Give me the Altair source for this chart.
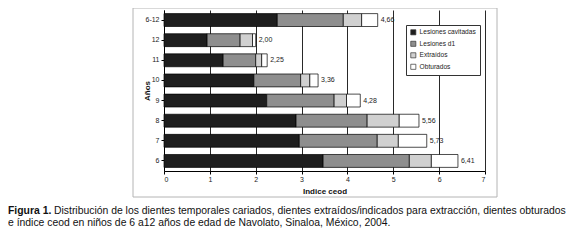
import altair as alt
import pandas as pd

# ---- data ----
years = ["6-12", "12", "11", "10", "9", "8", "7", "6"]
series = ["Lesiones cavitadas", "Lesiones d1", "Extraídos", "Obturados"]
cavitadas = [2.47, 0.94, 1.29, 1.96, 2.24, 2.88, 2.95, 3.47]
lesiones_d1 = [1.44, 0.72, 0.71, 1.02, 1.47, 1.55, 1.70, 1.88]
extraidos = [0.40, 0.27, 0.13, 0.20, 0.27, 0.70, 0.46, 0.48]
obturados = [0.35, 0.07, 0.12, 0.18, 0.30, 0.43, 0.62, 0.58]
totals = [4.66, 2.00, 2.25, 3.36, 4.28, 5.56, 5.73, 6.41]
total_labels = ["4,66", "2,00", "2,25", "3,36", "4,28", "5,56", "5,73", "6,41"]
x_ticks = [0, 1, 2, 3, 4, 5, 6, 7]
colors = ["#1e1e1e", "#8e8e8e", "#d0d0d0", "#ffffff"]

caption_bold = "Figura 1."
caption_line1 = ("Distribución de los dientes temporales cariados, dientes extraídos/indicados "
                 "para extracción, dientes obturados")
caption_line2 = "e índice ceod en niños de 6 a12 años de edad de Navolato, Sinaloa, México, 2004."

FONT = "Liberation Sans"

rows = []
for s_i, (name, vals) in enumerate(zip(series, [cavitadas, lesiones_d1, extraidos, obturados])):
    for y, v in zip(years, vals):
        rows.append({"year": y, "series": name, "value": v, "idx": s_i})
df = pd.DataFrame(rows)
tot_df = pd.DataFrame({"year": years, "total": totals, "label": total_labels})

W, H = 321, 161

y_enc = alt.Y(
    "year:N", sort=years, title="Años",
    scale=alt.Scale(domain=years, paddingInner=0.36, paddingOuter=0.18),
    axis=alt.Axis(labelFont=FONT, labelFontSize=7, labelColor="#222", tickSize=3,
                  tickColor="black", domainColor="black", labelPadding=2,
                  titleFont=FONT, titleFontSize=8, titleFontWeight="bold", titleColor="#111",
                  titleX=-17, titleY=H / 2, titleAngle=270, titleBaseline="middle"),
)
x_enc = alt.X(
    "value:Q", stack="zero", title="Indice ceod",
    scale=alt.Scale(domain=[0, 7], nice=False),
    axis=alt.Axis(values=x_ticks, format="d", labelFont=FONT, labelFontSize=7,
                  labelColor="#222", tickSize=3, tickColor="black", domainColor="black",
                  labelPadding=1, grid=True, gridColor="#111", gridWidth=0.9,
                  titleFont=FONT, titleFontSize=8, titleFontWeight="bold", titleColor="#111",
                  titlePadding=5),
)

frame = alt.Chart(alt.Data(values=[{"a": 1}])).mark_rect(
    fillOpacity=0, stroke="#b4b4b4", strokeWidth=1
).encode(x=alt.value(-31), x2=alt.value(333), y=alt.value(-2), y2=alt.value(187))

bars = alt.Chart(df).mark_bar(stroke="black", strokeWidth=0.7).encode(
    y=y_enc,
    x=x_enc,
    color=alt.Color(
        "series:N", scale=alt.Scale(domain=series, range=colors), title=None,
        legend=alt.Legend(orient="none", legendX=242, legendY=15, fillColor="white",
                          strokeColor="#333", padding=4, symbolType="square",
                          symbolSize=26, symbolStrokeColor="#333", symbolStrokeWidth=0.7,
                          labelFont=FONT, labelFontSize=6.6, labelColor="#222",
                          rowPadding=2.5, labelOffset=3, labelLimit=90),
    ),
    order=alt.Order("idx:Q"),
)

labels = alt.Chart(tot_df).mark_text(
    align="left", baseline="middle", dx=3, font=FONT, fontSize=7, fill="#222"
).encode(y=alt.Y("year:N", sort=years), x=alt.X("total:Q"), text="label:N")

CAP = 10.4
cap_bold = alt.Chart(alt.Data(values=[{"t": caption_bold}])).mark_text(
    align="left", baseline="alphabetic", font=FONT, fontSize=CAP, fontWeight="bold", fill="#111"
).encode(x=alt.value(-156), y=alt.value(204), text="t:N")

cap1 = alt.Chart(alt.Data(values=[{"t": caption_line1}])).mark_text(
    align="left", baseline="alphabetic", font=FONT, fontSize=CAP, fill="#111"
).encode(x=alt.value(-110), y=alt.value(204), text="t:N")

cap2 = alt.Chart(alt.Data(values=[{"t": caption_line2}])).mark_text(
    align="left", baseline="alphabetic", font=FONT, fontSize=CAP, fill="#111"
).encode(x=alt.value(-156), y=alt.value(216), text="t:N")

chart = alt.layer(frame, bars, labels, cap_bold, cap1, cap2).properties(
    width=W, height=H,
    autosize=alt.AutoSizeParams(type="none"),
    padding={"left": 156, "top": 2, "right": 83, "bottom": 57},
).configure_view(stroke="transparent")

chart.save("out.html", embed_options={"renderer": "svg", "actions": False})
